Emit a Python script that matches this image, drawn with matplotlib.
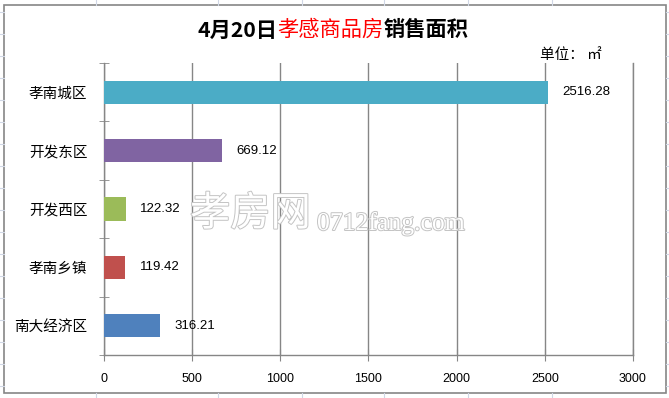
import matplotlib.pyplot as plt
import matplotlib.patheffects as pe
from matplotlib.patches import Rectangle
from matplotlib.lines import Line2D

plt.rcParams["font.family"] = ["Noto Sans CJK SC", "DejaVu Sans"]

# categories listed bottom-to-top, as barh draws them
districts = ["南大经济区", "孝南乡镇", "开发西区", "开发东区", "孝南城区"]
areas = [316.21, 119.42, 122.32, 669.12, 2516.28]
bar_colors = ["#4F81BD", "#C0504D", "#9BBB59", "#8064A2", "#4BACC6"]
x_ticks = [0, 500, 1000, 1500, 2000, 2500, 3000]

W, H = 669, 398
fig = plt.figure(figsize=(W / 100, H / 100), dpi=100)


def px(x, y):
    return x / W, 1 - y / H


# spreadsheet cells peeking out around the chart frame
sheet = "#D0D7E5"
for y in range(12, H, 22):
    for x0, x1 in [(0, 3.5), (666, W)]:
        fig.add_artist(Line2D([x0 / W, x1 / W], [1 - y / H] * 2, color=sheet, lw=0.8))
for x in [96, 218, 302, 384, 468, 552]:
    for y0, y1 in [(0, 5), (393, H)]:
        fig.add_artist(Line2D([x / W] * 2, [1 - y0 / H, 1 - y1 / H], color=sheet, lw=0.8))

# chart frame
fx, fy = px(3.5, 393)
fig.add_artist(Rectangle((fx, fy), (666 - 3.5) / W, (393 - 5) / H, transform=fig.transFigure,
                         facecolor="white", edgecolor="#868686", lw=1.2, zorder=0))

ax = fig.add_axes([104 / W, 1 - 355 / H, (633 - 104) / W, (355 - 63) / H])
ax.set_facecolor("none")
y_pos = range(len(districts))
ax.barh(y_pos, areas, height=0.4, color=bar_colors, zorder=3)

for y, v in zip(y_pos, areas):
    ax.text(v + 82, y, f"{v:.2f}", va="center", ha="left", fontsize=9.5,
            family=["Liberation Sans"], zorder=4)

ax.set_xlim(0, 3000)
ax.set_ylim(-0.5, len(districts) - 0.5)
ax.set_xticks(x_ticks)
ax.set_xticklabels([str(t) for t in x_ticks], fontsize=9, family=["Liberation Sans"])
ax.set_yticks(list(y_pos))
ax.set_yticklabels(districts, fontsize=10.5)
ax.set_yticks([i - 0.5 for i in range(len(districts) + 1)], minor=True)

ax.grid(axis="x", color="#868686", lw=1.0, zorder=1)
ax.axvline(x_ticks[-1], color="#868686", lw=1.0, zorder=1, clip_on=False)
for side in ["top", "right"]:
    ax.spines[side].set_visible(False)
for side in ["left", "bottom"]:
    ax.spines[side].set_color("#868686")
    ax.spines[side].set_linewidth(1.0)
    ax.spines[side].set_zorder(2)

ax.tick_params(axis="x", direction="inout", length=8, color="#868686", pad=9)
ax.tick_params(axis="y", which="major", length=0, pad=12)
ax.tick_params(axis="y", which="minor", direction="inout", length=7, color="#868686")

# title with the red middle part
ty = 1 - 30 / H
t1 = fig.text(197 / W, ty, "4月20日", fontsize=15.3, weight="bold", va="center", ha="left")
fig.canvas.draw()
bb = t1.get_window_extent()
t2 = fig.text(bb.x1 / W, ty, "孝感商品房", fontsize=15.3, weight="medium", color="#FF0000",
              va="center", ha="left")
fig.canvas.draw()
bb = t2.get_window_extent()
fig.text(bb.x1 / W, ty, "销售面积", fontsize=15.3, weight="bold", va="center", ha="left")

fig.text(540 / W, 1 - 55 / H, "单位： ㎡", fontsize=10.5, va="center", ha="left")

# site watermark
fig.text(190 / W, 1 - 214 / H, "孝房网", fontsize=29, color="white", va="center", ha="left",
         zorder=5, path_effects=[pe.withStroke(linewidth=1.4, foreground="#C4C4C4")])
fig.text(317 / W, 1 - 230 / H, "0712fang.com", fontsize=18.5, color="white", va="baseline",
         ha="left", family=["Liberation Serif"], zorder=5,
         path_effects=[pe.withStroke(linewidth=1.4, foreground="#C4C4C4")])

fig.savefig("out.png", dpi=100)
